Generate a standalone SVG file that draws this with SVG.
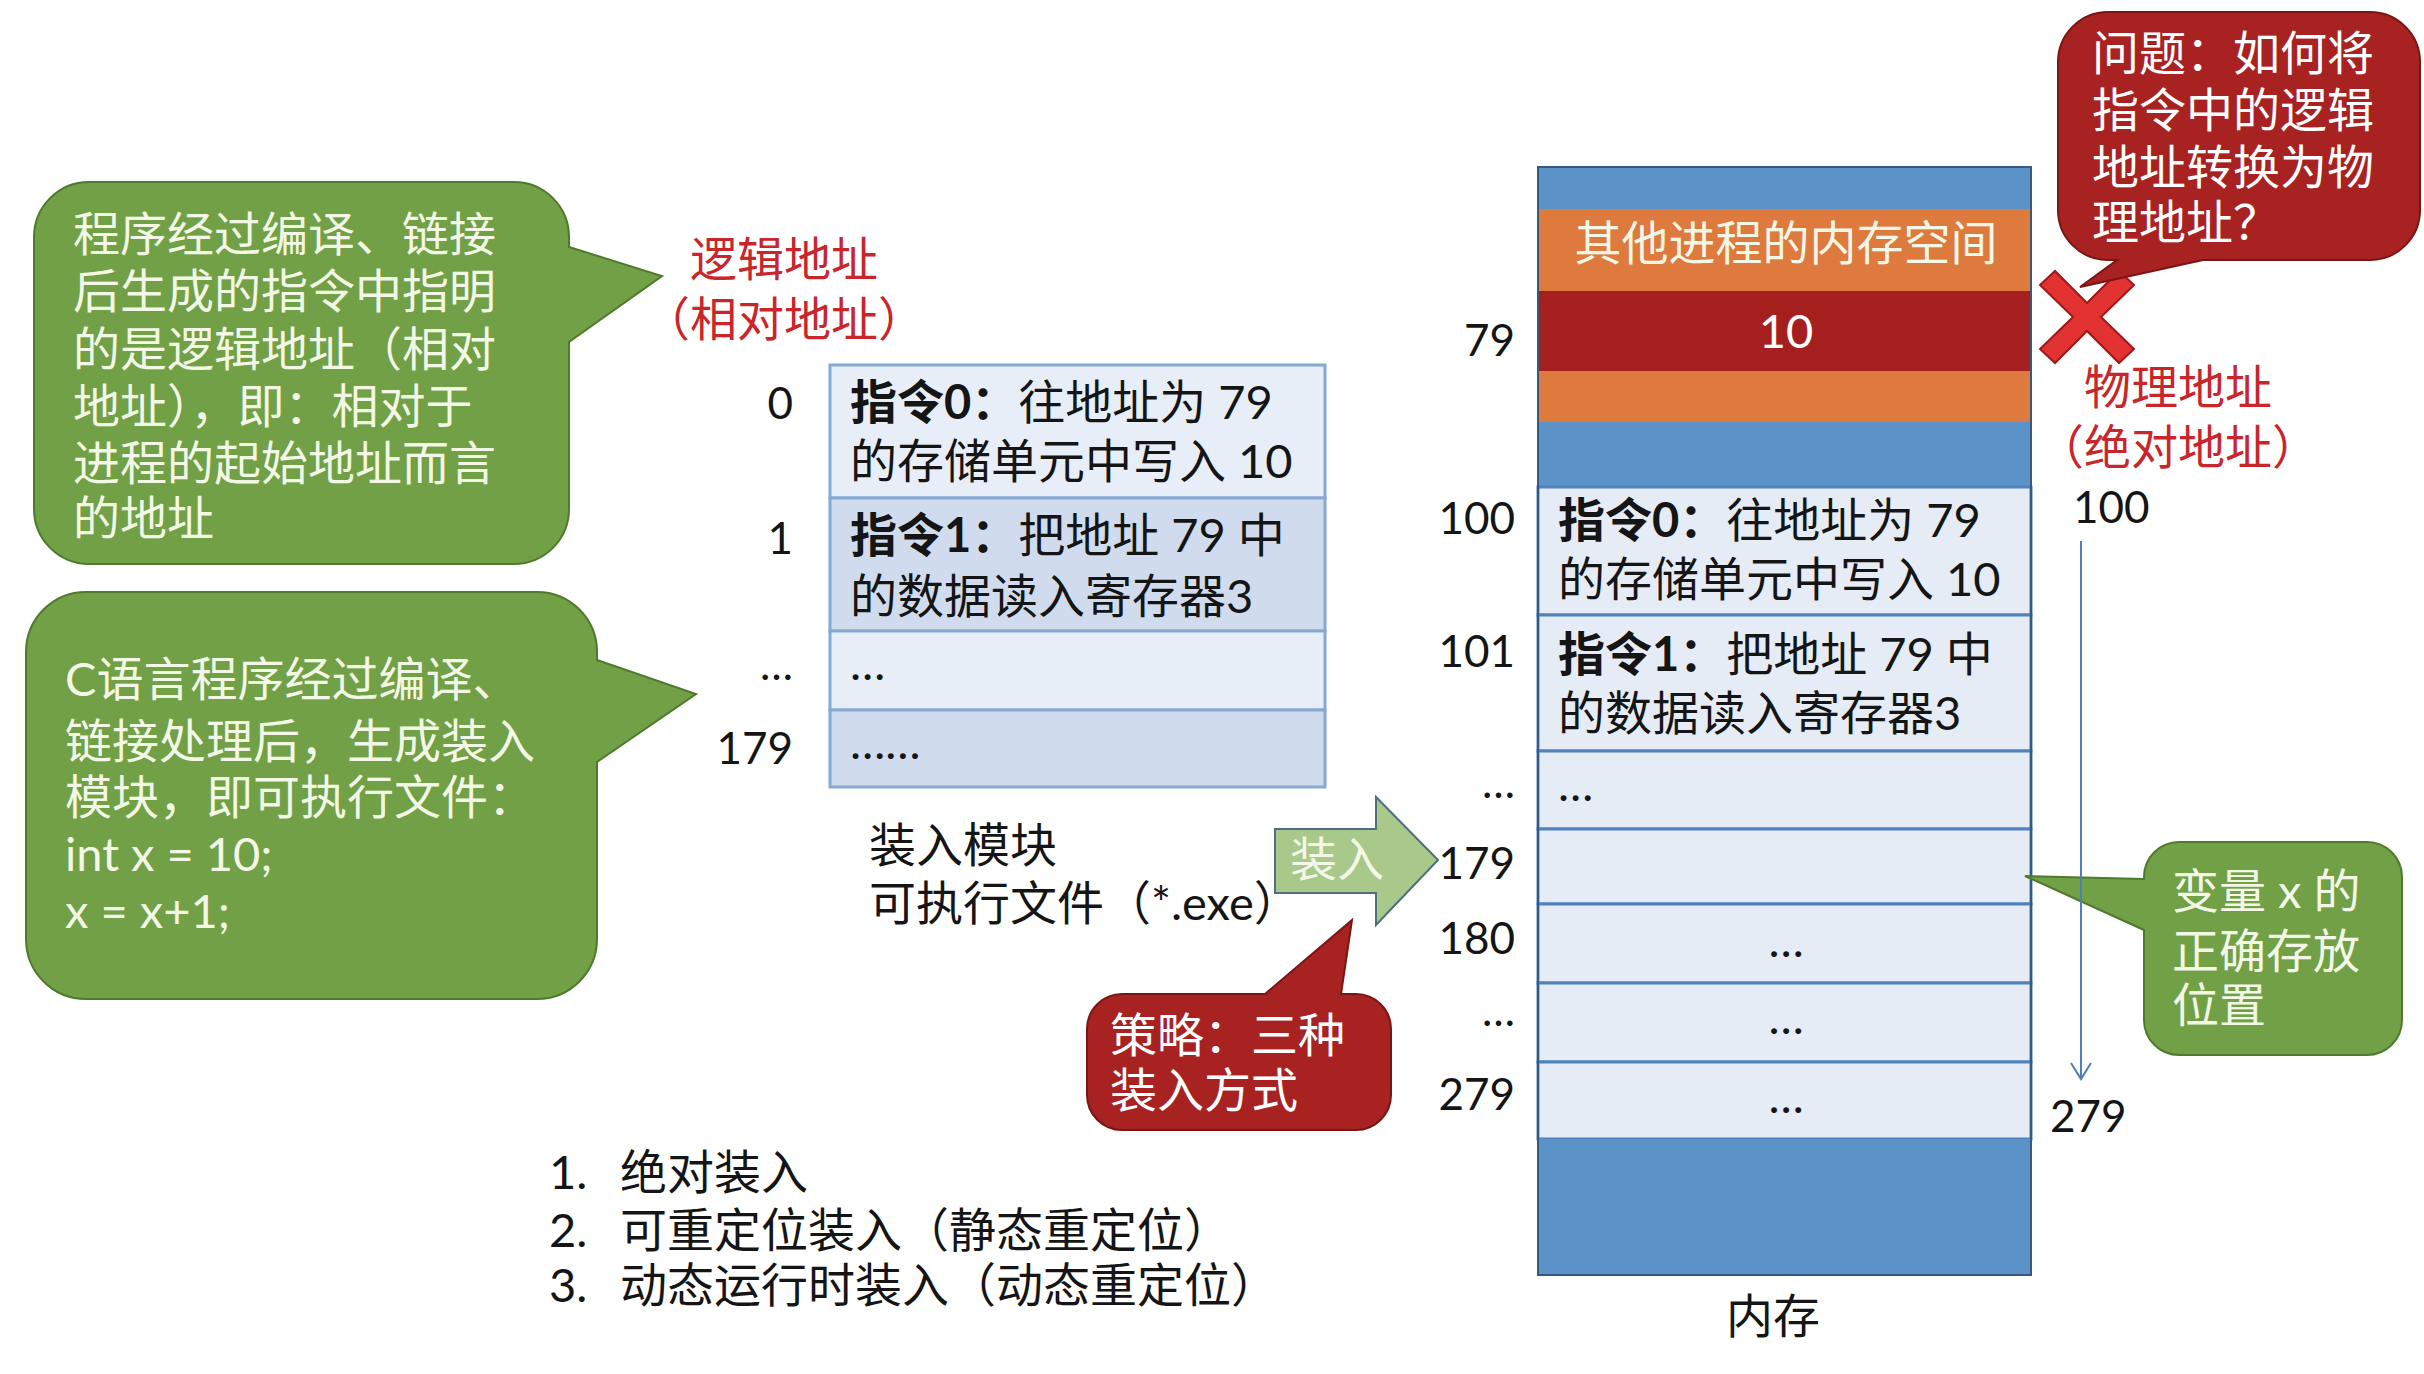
<svg xmlns="http://www.w3.org/2000/svg" width="2424" height="1374" viewBox="0 0 2424 1374">
<defs>
<style>
text{font-family:"Lato","Noto Sans CJK SC",sans-serif;font-size:47px;fill:#151515}
.w{fill:#f3f8e6}
.wt{fill:#ffffff}
.red{fill:#c8262a}
.lbl{font-size:44px;text-anchor:end}
.mid{text-anchor:middle}
.gcall{fill:#71a046;stroke:#4e7a2e;stroke-width:2}
.rcall{fill:#a82222;stroke:#7a1515;stroke-width:2}
.rowL{fill:#e8eef7;stroke:#86a9d4;stroke-width:3}
.rowD{fill:#d0dced;stroke:#86a9d4;stroke-width:3}
.mrow{fill:#e6ecf6;stroke:#4f81bd;stroke-width:3}
.blue{fill:#5b93c9}
.orange{fill:#df7a3e}
.dred{fill:#a61f1f}
</style>
<marker id="vhead" markerWidth="24" markerHeight="24" refX="20" refY="12" orient="auto" markerUnits="userSpaceOnUse" viewBox="0 0 24 24">
<path d="M4 2 L20 12 L4 22" fill="none" stroke="#4f7fb8" stroke-width="2"/>
</marker>
</defs>
<rect width="2424" height="1374" fill="#ffffff"/>

<g id="callout-logic">
<path class="gcall" d="M89 182 H514 A55 55 0 0 1 569 237 V247 L662 276 L569 342 V509 A55 55 0 0 1 514 564 H89 A55 55 0 0 1 34 509 V237 A55 55 0 0 1 89 182 Z"/>
<text class="w" x="73" y="251">程序经过编译、链接</text>
<text class="w" x="73" y="308">后生成的指令中指明</text>
<text class="w" x="73" y="366">的是逻辑地址（相对</text>
<text class="w" x="73" y="423">地址），即：相对于</text>
<text class="w" x="73" y="480">进程的起始地址而言</text>
<text class="w" x="73" y="535">的地址</text>
</g>

<g id="callout-c">
<path class="gcall" d="M86 592 H537 A60 60 0 0 1 597 652 V660 L696 694 L597 762 V939 A60 60 0 0 1 537 999 H86 A60 60 0 0 1 26 939 V652 A60 60 0 0 1 86 592 Z"/>
<text class="w" x="65" y="696">C语言程序经过编译、</text>
<text class="w" x="65" y="758">链接处理后，生成装入</text>
<text class="w" x="65" y="814">模块，即可执行文件：</text>
<text class="w" x="65" y="871">int x = 10;</text>
<text class="w" x="65" y="928">x = x+1;</text>
</g>

<g id="label-logic">
<text class="red mid" x="784" y="276">逻辑地址</text>
<text class="red mid" x="784" y="336">（相对地址）</text>
</g>

<g id="load-module">
<rect class="rowL" x="830" y="365" width="495" height="133"/>
<rect class="rowD" x="830" y="498" width="495" height="133"/>
<rect class="rowL" x="830" y="631" width="495" height="79"/>
<rect class="rowD" x="830" y="710" width="495" height="77"/>
<text x="850" y="419"><tspan font-weight="bold">指令0：</tspan>往地址为 79</text>
<text x="850" y="478">的存储单元中写入 10</text>
<text x="850" y="552"><tspan font-weight="bold">指令1：</tspan>把地址 79 中</text>
<text x="850" y="613">的数据读入寄存器3</text>
<text x="850" y="680">…</text>
<text x="850" y="759">……</text>
<text class="lbl" x="793" y="419">0</text>
<text class="lbl" x="793" y="554">1</text>
<text class="lbl" x="793" y="680">…</text>
<text class="lbl" x="793" y="764">179</text>
<text x="869" y="862">装入模块</text>
<text x="869" y="920">可执行文件（*.exe）</text>
</g>

<g id="load-arrow">
<polygon points="1275,829 1376,829 1376,797 1438,860 1376,925 1376,893 1275,893" fill="#a8c98a" stroke="#4d6f80" stroke-width="2"/>
<text class="w mid" x="1337" y="876">装入</text>
</g>

<g id="callout-strategy">
<path class="rcall" d="M1122 994 H1265 L1352 920 L1341 994 H1356 A35 35 0 0 1 1391 1029 V1095 A35 35 0 0 1 1356 1130 H1122 A35 35 0 0 1 1087 1095 V1029 A35 35 0 0 1 1122 994 Z"/>
<text class="wt" x="1110" y="1052">策略：三种</text>
<text class="wt" x="1110" y="1107">装入方式</text>
</g>

<g id="methods">
<text x="549" y="1189">1.</text><text x="620" y="1189">绝对装入</text>
<text x="549" y="1247">2.</text><text x="620" y="1247">可重定位装入（静态重定位）</text>
<text x="549" y="1302">3.</text><text x="620" y="1302">动态运行时装入（动态重定位）</text>
</g>

<g id="memory">
<rect class="blue" x="1538" y="167" width="493" height="42"/>
<rect class="orange" x="1538" y="209" width="493" height="82"/>
<rect class="dred" x="1538" y="291" width="493" height="80"/>
<rect class="orange" x="1538" y="371" width="493" height="51"/>
<rect class="blue" x="1538" y="422" width="493" height="65"/>
<rect class="mrow" x="1538" y="487" width="493" height="128"/>
<rect class="mrow" x="1538" y="615" width="493" height="136"/>
<rect class="mrow" x="1538" y="751" width="493" height="78"/>
<rect class="mrow" x="1538" y="829" width="493" height="75"/>
<rect class="mrow" x="1538" y="904" width="493" height="79"/>
<rect class="mrow" x="1538" y="983" width="493" height="79"/>
<rect class="mrow" x="1538" y="1062" width="493" height="77"/>
<rect class="blue" x="1538" y="1139" width="493" height="136"/>
<rect x="1538" y="167" width="493" height="1108" fill="none" stroke="#35597f" stroke-width="2"/>
<text class="w mid" x="1786" y="260">其他进程的内存空间</text>
<text class="wt mid" x="1786" y="348">10</text>
<text x="1558" y="537"><tspan font-weight="bold">指令0：</tspan>往地址为 79</text>
<text x="1558" y="596">的存储单元中写入 10</text>
<text x="1558" y="671"><tspan font-weight="bold">指令1：</tspan>把地址 79 中</text>
<text x="1558" y="730">的数据读入寄存器3</text>
<text x="1558" y="801">…</text>
<text class="mid" x="1786" y="957">…</text>
<text class="mid" x="1786" y="1034">…</text>
<text class="mid" x="1786" y="1113">…</text>
<text class="lbl" x="1515" y="356">79</text>
<text class="lbl" x="1515" y="534">100</text>
<text class="lbl" x="1515" y="667">101</text>
<text class="lbl" x="1515" y="798">…</text>
<text class="lbl" x="1515" y="879">179</text>
<text class="lbl" x="1515" y="954">180</text>
<text class="lbl" x="1515" y="1026">…</text>
<text class="lbl" x="1515" y="1110">279</text>
<text class="mid" x="1773" y="1333">内存</text>
</g>

<g id="label-physical">
<text class="red mid" x="2178" y="404">物理地址</text>
<text class="red mid" x="2178" y="464">（绝对地址）</text>
<text style="font-size:44px" x="2073" y="523">100</text>
<text style="font-size:44px" x="2050" y="1132">279</text>
</g>

<g id="cross">
<polygon points="2040,285 2055,271 2087,303 2119,271 2134,285 2101,317 2134,349 2119,363 2087,331 2055,363 2040,349 2073,317" fill="#e23232" stroke="#a01818" stroke-width="2"/>
</g>

<g id="callout-question">
<path class="rcall" d="M2108 12 H2370 A50 50 0 0 1 2420 62 V210 A50 50 0 0 1 2370 260 H2203 L2080 287 L2117 260 H2108 A50 50 0 0 1 2058 210 V62 A50 50 0 0 1 2108 12 Z"/>
<text class="wt" x="2092" y="70">问题：如何将</text>
<text class="wt" x="2092" y="127">指令中的逻辑</text>
<text class="wt" x="2092" y="184">地址转换为物</text>
<text class="wt" x="2092" y="239">理地址？</text>
</g>

<g id="callout-x">
<path class="gcall" d="M2179 842 H2367 A35 35 0 0 1 2402 877 V1020 A35 35 0 0 1 2367 1055 H2179 A35 35 0 0 1 2144 1020 V930 L2025 876 L2144 879 V877 A35 35 0 0 1 2179 842 Z"/>
<text class="w" x="2172" y="908">变量 x 的</text>
<text class="w" x="2172" y="968">正确存放</text>
<text class="w" x="2172" y="1022">位置</text>
</g>

<g id="connectors">
<line x1="2081" y1="541" x2="2081" y2="1079" stroke="#4f7fb8" stroke-width="2" marker-end="url(#vhead)"/>
</g>
</svg>
